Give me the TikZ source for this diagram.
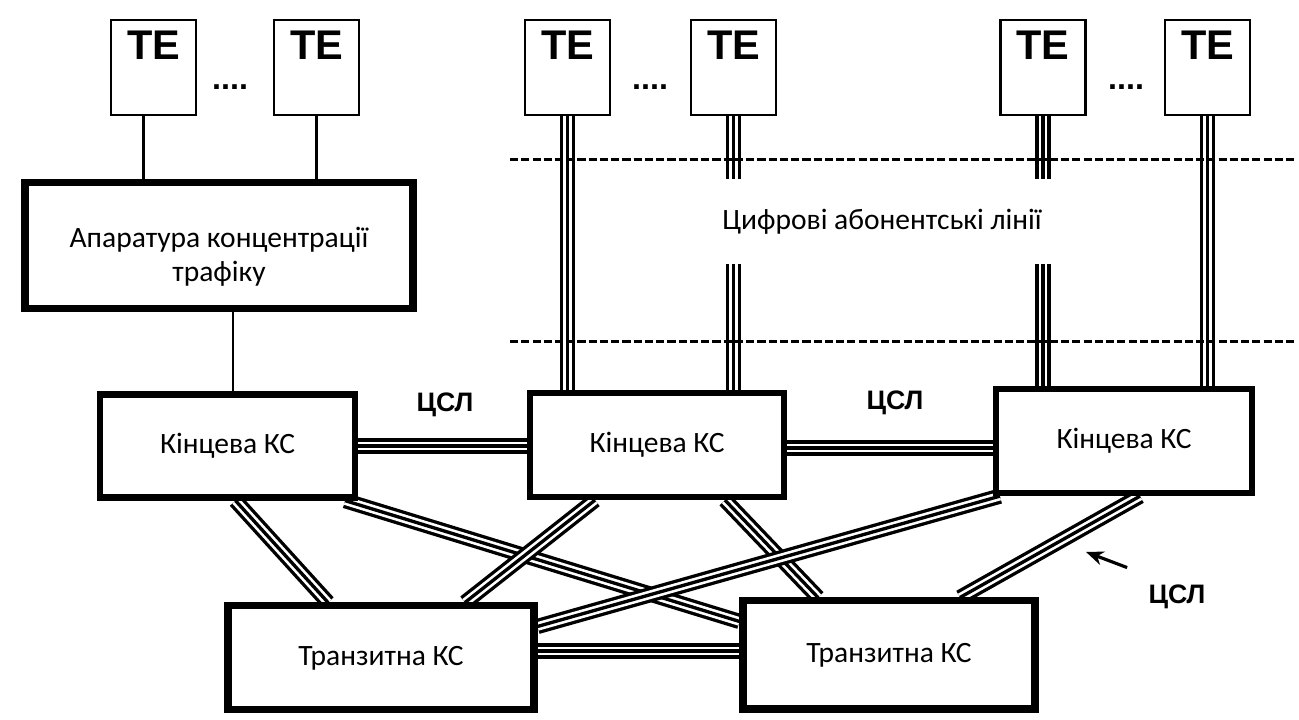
\documentclass[tikz,border=0pt]{standalone}
\usepackage{fontspec}
\setmainfont{Carlito}
\newfontfamily\arialfont{Liberation Sans}
\usetikzlibrary{arrows.meta, positioning, backgrounds}

\begin{document}
\begin{tikzpicture}[>=Stealth,
    box/.style={draw, line width=1.8pt, fill=white, font=\fontsize{8.4}{9.8}\selectfont, align=center, inner sep=0pt},
    tebox/.style={draw, line width=0.8pt, fill=white, minimum width=0.85cm, minimum height=0.95cm, inner sep=0pt,
                  text height=0.40cm, text depth=0.55cm, font=\arialfont\bfseries\fontsize{11.8}{12}\selectfont},
    dots/.style={font=\arialfont\bfseries\fontsize{9.2}{10}\selectfont},
    csl/.style={font=\arialfont\bfseries\fontsize{7.6}{8}\selectfont},
    triple/.style={preaction={draw, line width=4.35pt}, preaction={draw=white, line width=2.45pt}, line width=0.95pt},
    dashline/.style={line width=0.85pt, dash pattern=on 2.3pt off 0.9pt}]
    \useasboundingbox (0,0) rectangle (12.99,7.20);

    % Термінали
    \node[tebox] (te1) at (1.535, 6.525) {TE};
    \node[tebox] (te2) at (3.165, 6.525) {TE};
    \node[tebox] (te3) at (5.675, 6.525) {TE};
    \node[tebox] (te4) at (7.335, 6.525) {TE};
    \node[tebox] (te5) at (10.43, 6.525) {TE};
    \node[tebox] (te6) at (12.075, 6.525) {TE};
    \node[dots] (dots1) at (2.30, 6.33) {....};
    \node[dots] (dots2) at (6.50, 6.33) {....};
    \node[dots] (dots3) at (11.26, 6.33) {....};

    % Концентратор і комутаційні станції
    \node[box, line width=2pt, minimum width=3.88cm, minimum height=1.26cm] (conc) at (2.19, 4.74)
        {\rule{0pt}{0.42cm}Апаратура концентрації\\трафіку};
    \node[box, minimum width=2.55cm, minimum height=1.03cm] (kc1) at (2.275, 2.74) {Кінцева КС};
    \node[box, minimum width=2.54cm, minimum height=1.04cm] (kc2) at (6.57, 2.75) {Кінцева КС};
    \node[box, minimum width=2.56cm, minimum height=1.04cm] (kc3) at (11.24, 2.79) {Кінцева КС};
    \node[box, line width=2pt, minimum width=3.06cm, minimum height=1.04cm] (tr1) at (3.81, 0.62) {Транзитна КС};
    \node[box, line width=2pt, minimum width=2.92cm, minimum height=1.08cm] (tr2) at (8.89, 0.65) {Транзитна КС};

    % Лінії (під вузлами)
    \begin{scope}[on background layer]
        \draw[line width=1.1pt] ([xshift=-0.1cm]te1.south) -- ([xshift=-0.1cm]te1.south |- conc.north);
        \draw[line width=1.1pt] (te2.south) -- (te2.south |- conc.north);
        \draw[line width=0.5pt] ([xshift=0.14cm]conc.south) -- ([xshift=0.14cm]conc.south |- kc1.north);

        \draw[triple] (te3.south) -- (te3.south |- kc2.north);
        \draw[triple] (te4.south) -- (te4.south |- kc2.north);
        \draw[triple] (te5.south) -- (te5.south |- kc3.north);
        \draw[triple] (te6.south) -- (te6.south |- kc3.north);

        \draw[triple] (kc1.east) -- (kc1.east -| kc2.west);
        \draw[triple] ([yshift=-0.03cm]kc2.east) -- ([yshift=-0.03cm]kc2.east -| kc3.west);
        \draw[triple] ([yshift=0.07cm]tr1.east) -- ([yshift=0.07cm]tr1.east -| tr2.west);

        \draw[triple] ([xshift=0.08cm]kc1.south) -- ([xshift=-0.53cm]tr1.north);
        \draw[triple] ([xshift=-0.13cm]kc1.south east) -- ([yshift=-0.24cm]tr2.north west);
        \draw[triple] ([xshift=-0.62cm]kc2.south) -- ([xshift=0.84cm]tr1.north);
        \draw[triple] ([xshift=0.68cm]kc2.south) -- ([xshift=-0.71cm]tr2.north);
        \draw[triple] ([xshift=0.07cm]kc3.south west) -- ([yshift=-0.24cm]tr1.north east);
        \draw[triple] ([xshift=0.16cm]kc3.south) -- ([xshift=0.71cm]tr2.north);
    \end{scope}

    % Межі абонентських ліній
    \coordinate (d1w) at (5.10, 5.60);
    \coordinate (d1e) at (12.95, 5.60);
    \coordinate (d2w) at (5.10, 3.78);
    \coordinate (d2e) at (12.95, 3.78);
    \draw[dashline] (d1w) -- (d1e);
    \draw[dashline] (d2w) -- (d2e);
    \node[fill=white, minimum width=5.25cm, minimum height=0.85cm, font=\fontsize{8.4}{9.8}\selectfont] (dsl)
        at (8.82, 4.98) {Цифрові абонентські лінії};

    % Підписи ЦСЛ
    \node[csl] (csl1) at (4.45, 3.15) {ЦСЛ};
    \node[csl] (csl2) at (8.95, 3.17) {ЦСЛ};
    \node[csl] (csl3) at (11.77, 1.23) {ЦСЛ};
    \coordinate (csltip) at (10.86, 1.68);
    \draw[-{Stealth[length=5pt, width=4pt]}, line width=0.9pt] ([shift={(-0.09,0.05)}]csl3.north west) -- (csltip);
\end{tikzpicture}
\end{document}
